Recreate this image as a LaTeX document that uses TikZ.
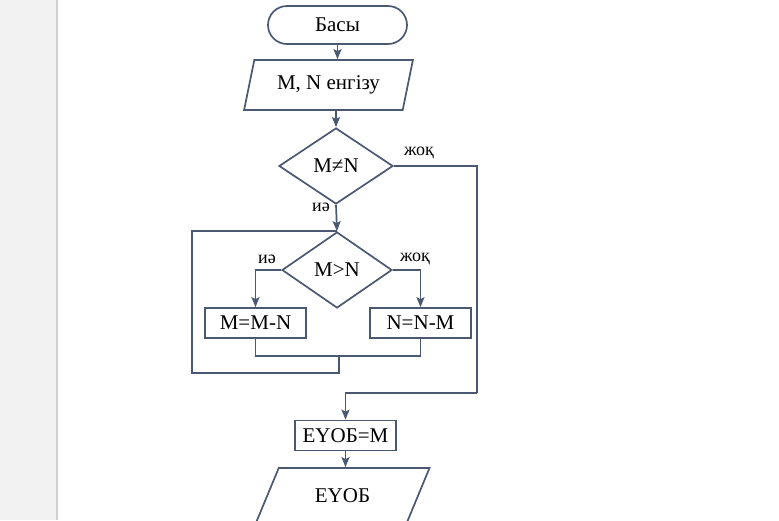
\documentclass[tikz,border=0pt]{standalone}
\usepackage{fontspec}
\setmainfont{Liberation Serif}
\usetikzlibrary{arrows.meta,shapes,calc,positioning}
\definecolor{flowline}{HTML}{4A5872}
\definecolor{panelgray}{HTML}{F2F2F2}
\definecolor{paneledge}{HTML}{D2D2D2}

\begin{document}
\begin{tikzpicture}[x=1pt,y=-1pt,
	every node/.style={font=\fontsize{21}{24}\selectfont, inner sep=0pt},
	base/.style={draw=flowline, line width=1.7pt},
	term/.style={base, rounded rectangle, minimum width=139, minimum height=38},
	io/.style={base, trapezium, trapezium stretches=true},
	proc/.style={base, rectangle, minimum width=101, minimum height=30},
	cond/.style={base, diamond, aspect=1.5},
	lbl/.style={font=\fontsize{18}{20}\selectfont},
	flow/.style={draw=flowline, line width=1.7pt, -{Stealth[length=10pt,width=8pt,inset=2pt]}},
	link/.style={draw=flowline, line width=1.7pt}]
	\useasboundingbox (0,0) rectangle (779,520);
	% left panel of the page
	\fill [panelgray] (0,0) rectangle (57,520);
	\draw [paneledge, line width=1.5pt] (57,0) -- (57,520);
	% blocks
	\node [term] (start) at (337.5,25) {Басы};
	\node [io, trapezium left angle=69, trapezium right angle=111, minimum width=169, minimum height=50] (input) at (328.5,85) {M, N енгізу};
	\node [cond, minimum width=114, minimum height=76] (neq) at (336,166) {M≠N};
	\node [cond, minimum width=110, minimum height=76] (gt) at (337,270) {M>N};
	\node [proc] (subm) at (255.5,323) {M=M-N};
	\node [proc] (subn) at (420.5,323) {N=N-M};
	\node [proc] (res) at (345.5,435.5) {ЕҮОБ=M};
	\node [io, trapezium left angle=54.5, trapezium right angle=125.5, minimum width=175, minimum height=56] (out) at (342.5,496) {ЕҮОБ};
	% labels
	\node [lbl] (neqno) at (419,153) {жоқ};
	\node [lbl] (neqyes) at (321,207) {иә};
	\node [lbl] (gtyes) at (267,259) {иә};
	\node [lbl] (gtno) at (415,259) {жоқ};
	% turning points
	\coordinate (rturn) at (477,393);
	\coordinate (merge) at (339,356);
	\coordinate (loopbl) at (192,373);
	% connectors
	\draw [flow] (start.south) -- (start.south |- input.north);
	\draw [flow] (neq.north |- input.south) -- (neq.north);
	\draw [flow] (neq.south) -- (gt.north);
	\draw [flow] (gt.west) -| (subm.north);
	\draw [flow] (gt.east) -| (subn.north);
	\draw [link] (subm.south) |- (merge) -| (subn.south);
	\draw [link] (merge) |- (loopbl) |- (gt.north);
	\draw [link] (neq.east) -| (rturn);
	\draw [flow] (rturn) -| (res.north);
	\draw [flow] (res.south) -- (res.south |- out.north);
\end{tikzpicture}
\end{document}
